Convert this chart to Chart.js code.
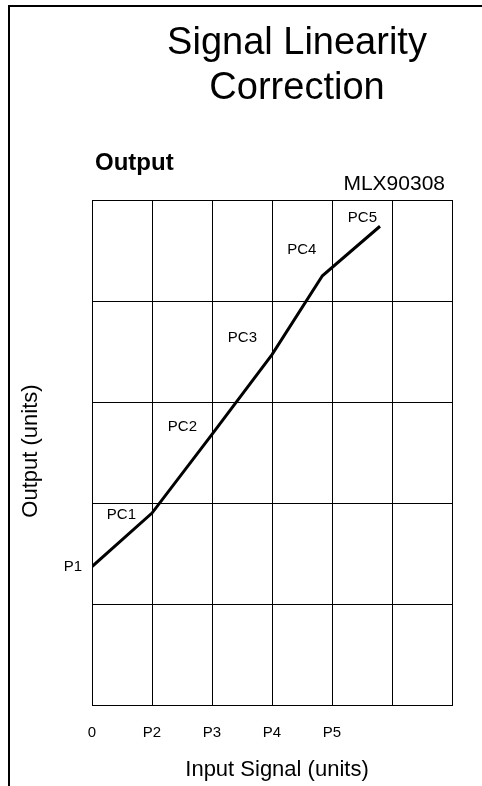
<!DOCTYPE html>
<html>
<head>
<meta charset="utf-8">
<title>Signal Linearity Correction</title>
<script src="https://cdn.jsdelivr.net/npm/chart.js@4/dist/chart.umd.min.js"></script>
<style>
  html, body { margin: 0; padding: 0; background: #fff; }
  canvas { display: block; }
</style>
</head>
<body>
<canvas id="chart" width="482" height="786"></canvas>
<script>
'use strict';
// input signal positions (x) and output levels (y)
var inputValues = [0, 1, 2, 3, 3.84, 4.8];
var outputValues = [1.37, 1.90, 2.68, 3.47, 4.25, 4.74];
var pointNames = ['P1', 'PC1', 'PC2', 'PC3', 'PC4', 'PC5'];
var xTickLabels = ['0', 'P2', 'P3', 'P4', 'P5', '', ''];

// pixel nudges for the point names (layout only)
var labelOffsets = [[-10, 0], [-16, 2], [-15, -7], [-15, -17], [-6, -26], [-3, -8]];

var FONT = '"Liberation Sans", Arial, sans-serif';

var textPlugin = {
  id: 'texts',
  beforeDraw: function(chart) {
    var ctx = chart.ctx;
    ctx.save();
    ctx.fillStyle = '#fff';
    ctx.fillRect(0, 0, chart.width, chart.height);
    // page frame (left + top)
    ctx.fillStyle = '#000';
    ctx.fillRect(8, 5, 2, chart.height - 5);
    ctx.fillRect(8, 5, chart.width - 8, 2);
    ctx.restore();
  },
  afterDraw: function(chart) {
    var ctx = chart.ctx;
    var xs = chart.scales.x, ys = chart.scales.y;
    ctx.save();
    ctx.fillStyle = '#000';
    ctx.textBaseline = 'alphabetic';

    ctx.textAlign = 'center';
    ctx.font = '38px ' + FONT;
    ctx.fillText('Signal Linearity', 297, 54);
    ctx.fillText('Correction', 297, 99);

    ctx.textAlign = 'left';
    ctx.font = 'bold 24px ' + FONT;
    ctx.fillText('Output', 95, 170);

    ctx.textAlign = 'right';
    ctx.font = '21px ' + FONT;
    ctx.fillText('MLX90308', 445, 190);

    ctx.textAlign = 'center';
    ctx.font = '22px ' + FONT;
    ctx.fillText('Input Signal (units)', 277, 776);

    ctx.save();
    ctx.translate(37, 451);
    ctx.rotate(-Math.PI / 2);
    ctx.fillText('Output (units)', 0, 0);
    ctx.restore();

    // point names
    ctx.font = '15px ' + FONT;
    ctx.textAlign = 'right';
    ctx.textBaseline = 'middle';
    pointNames.forEach(function(name, i) {
      var px = xs.getPixelForValue(inputValues[i]) + labelOffsets[i][0];
      var py = ys.getPixelForValue(outputValues[i]) + labelOffsets[i][1];
      ctx.fillText(name, px, py);
    });
    ctx.restore();
  }
};

var points = inputValues.map(function(x, i) { return { x: x, y: outputValues[i] }; });

new Chart(document.getElementById('chart'), {
  type: 'line',
  data: {
    datasets: [{
      data: points,
      borderColor: '#000',
      borderWidth: 3,
      pointRadius: 0,
      tension: 0,
      fill: false
    }]
  },
  options: {
    responsive: false,
    animation: false,
    devicePixelRatio: 1,
    layout: { padding: { left: 92, top: 200, right: 30, bottom: 21 } },
    plugins: {
      legend: { display: false },
      tooltip: { enabled: false }
    },
    scales: {
      x: {
        type: 'linear',
        min: 0,
        max: 6,
        afterFit: function(scale) { scale.height = 60; },
        grid: { color: '#000', lineWidth: 1, drawTicks: false },
        border: { color: '#000', width: 1 },
        ticks: {
          stepSize: 1,
          padding: 19,
          color: '#000',
          font: { family: FONT, size: 15 },
          maxRotation: 0,
          callback: function(v) { return xTickLabels[v] || ''; }
        }
      },
      y: {
        min: 0,
        max: 5,
        afterFit: function(scale) { scale.width = 0; },
        grid: { color: '#000', lineWidth: 1, drawTicks: false },
        border: { color: '#000', width: 1 },
        ticks: { stepSize: 1, display: false }
      }
    }
  },
  plugins: [textPlugin]
});
</script>
</body>
</html>
